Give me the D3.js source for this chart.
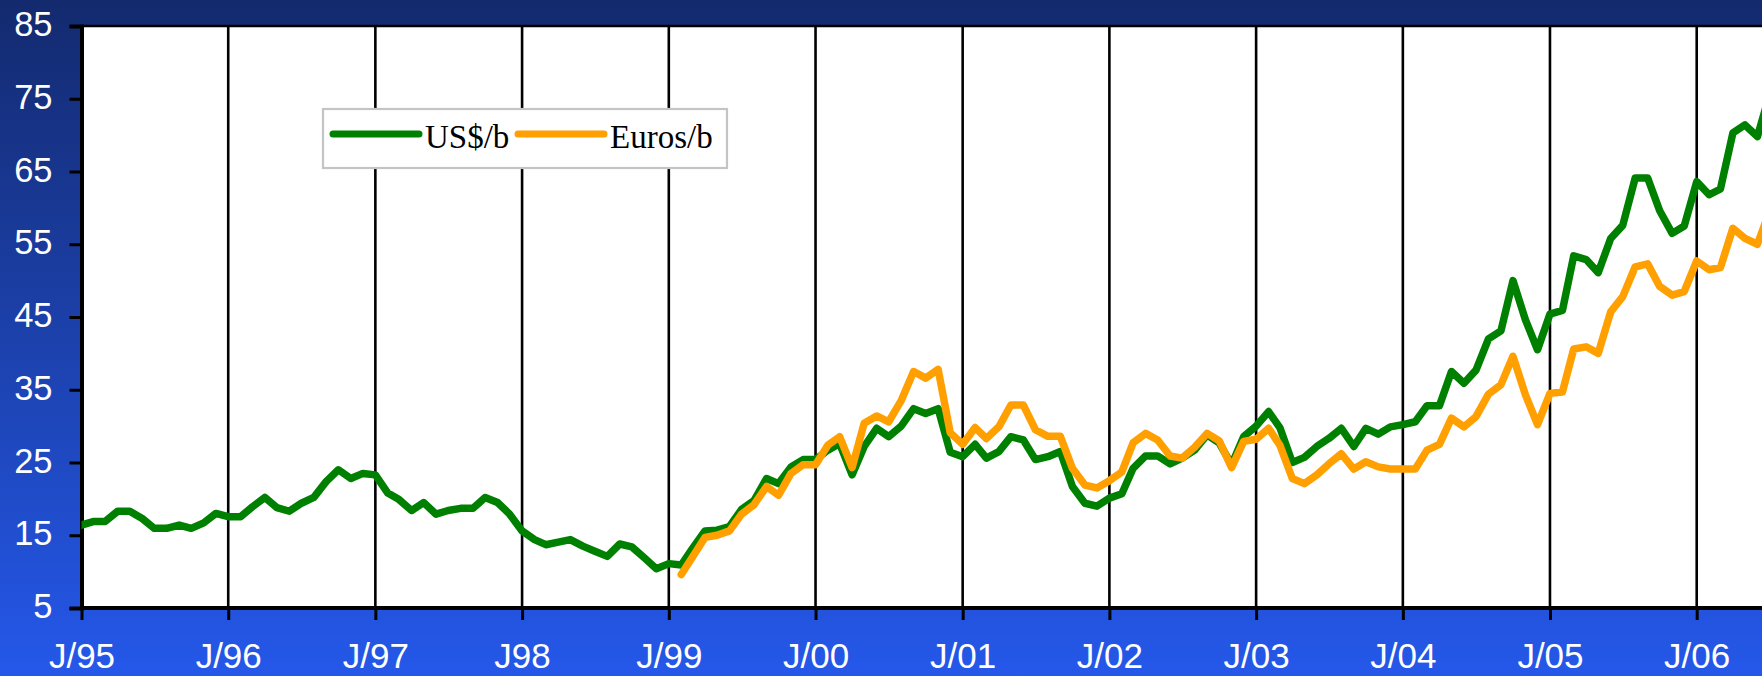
<!DOCTYPE html>
<html>
<head>
<meta charset="utf-8">
<script src="https://cdn.jsdelivr.net/npm/d3@7"></script>
<style>
  html, body { margin: 0; padding: 0; background: #fff; }
  svg { display: block; }
</style>
</head>
<body>
<div id="chart"></div>
<script>
// ---------------- DATA ----------------
const usdStart = "1995-01";
const usdValues = [
  // 1995
  16.4, 16.9, 16.9, 18.3, 18.3, 17.3, 15.95, 15.95, 16.4, 15.95, 16.7, 18.0,
  // 1996
  17.55, 17.55, 18.9, 20.2, 18.8, 18.3, 19.4, 20.2, 22.4, 24.0, 22.8, 23.5,
  // 1997
  23.3, 20.8, 19.9, 18.4, 19.5, 17.9, 18.4, 18.7, 18.7, 20.2, 19.5, 17.9,
  // 1998
  15.6, 14.4, 13.7, 14.05, 14.4, 13.5, 12.8, 12.1, 13.8, 13.4, 11.9, 10.4,
  // 1999
  11.1, 10.9, 13.2, 15.6, 15.7, 16.2, 18.55, 19.75, 22.8, 22.1, 24.4, 25.4,
  // 2000
  25.4, 26.7, 27.6, 23.3, 27.2, 29.7, 28.55, 30.0, 32.4, 31.75, 32.4, 26.4,
  // 2001
  25.8, 27.5, 25.6, 26.5, 28.55, 28.1, 25.4, 25.8, 26.5, 21.7, 19.4, 19.0,
  // 2002
  20.1, 20.7, 24.2, 25.9, 25.9, 24.8, 25.6, 26.7, 28.8, 27.7, 24.7, 28.55,
  // 2003
  30.0, 32.0, 29.8, 25.0, 25.7, 27.2, 28.3, 29.7, 27.2, 29.7, 28.9, 29.9,
  // 2004
  30.2, 30.6, 32.8, 32.8, 37.5, 35.9, 37.7, 42.0, 43.1, 50.0, 44.6, 40.5,
  // 2005
  45.4, 45.9, 53.4, 52.9, 51.1, 55.8, 57.6, 64.1, 64.1, 59.6, 56.5, 57.5,
  // 2006
  63.6, 61.8, 62.6, 70.3, 71.4, 69.8, 75.5
];
const eurStart = "1999-02";
const eurValues = [
  // 1999 (from Feb)
  9.6, 12.0, 14.7, 15.0, 15.6, 17.9, 19.2, 21.7, 20.5, 23.5, 24.7,
  // 2000
  24.7, 27.4, 28.55, 24.3, 30.4, 31.4, 30.6, 33.5, 37.5, 36.6, 37.8, 29.1,
  // 2001
  27.5, 29.8, 28.3, 29.9, 32.9, 32.9, 29.5, 28.6, 28.6, 24.2, 21.9, 21.5,
  // 2002
  22.5, 23.7, 27.7, 29.0, 28.1, 25.9, 25.6, 27.1, 29.0, 28.0, 24.3, 27.9,
  // 2003
  28.2, 29.7, 27.4, 22.8, 22.1, 23.3, 24.8, 26.2, 24.1, 25.1, 24.4, 24.1,
  // 2004
  24.1, 24.1, 26.7, 27.5, 31.1, 29.9, 31.3, 34.4, 35.7, 39.6, 34.3, 30.2,
  // 2005
  34.5, 34.7, 40.6, 40.9, 40.0, 45.7, 47.8, 51.9, 52.3, 49.2, 48.0, 48.5,
  // 2006
  52.7, 51.5, 51.8, 57.2, 55.8, 55.0, 59.5
];
const seriesNames = ["US$/b", "Euros/b"];
const xTickYears = [1995, 1996, 1997, 1998, 1999, 2000, 2001, 2002, 2003, 2004, 2005, 2006];
const xTickLabels = ["J/95", "J/96", "J/97", "J98", "J/99", "J/00", "J/01", "J/02", "J/03", "J/04", "J/05", "J/06"];
const yTicks = [5, 15, 25, 35, 45, 55, 65, 75, 85];

// ---------------- LAYOUT ----------------
const W = 1762, H = 676;
const plotL = 81.5, plotR = 1762, plotT = 26, plotB = 608;
const GREEN = "#008000", ORANGE = "#ff9f00";

const parseMonth = d3.timeParse("%Y-%m");
function monthSeries(start, values) {
  const s = parseMonth(start);
  return values.map((v, i) => ({ date: d3.timeMonth.offset(s, i), value: v }));
}
const usd = monthSeries(usdStart, usdValues);
const eur = monthSeries(eurStart, eurValues);

const x = d3.scaleTime()
  .domain([new Date(1995, 0, 1), new Date(2006, 0, 1)])
  .range([plotL, 1696.7]);
const y = d3.scaleLinear().domain([5, 85]).range([plotB, plotT]);

const svg = d3.select("#chart").append("svg")
  .attr("width", W).attr("height", H);

const defs = svg.append("defs");
const grad = defs.append("linearGradient").attr("id", "bg")
  .attr("x1", 0).attr("y1", 0).attr("x2", 0).attr("y2", 1);
grad.append("stop").attr("offset", "0%").attr("stop-color", "#132a6e");
grad.append("stop").attr("offset", "100%").attr("stop-color", "#2558ea");
defs.append("clipPath").attr("id", "plotclip")
  .append("rect").attr("x", plotL).attr("y", plotT - 5)
  .attr("width", plotR - plotL).attr("height", plotB - plotT + 5);

svg.append("rect").attr("width", W).attr("height", H).attr("fill", "url(#bg)");
svg.append("rect").attr("x", plotL).attr("y", plotT)
  .attr("width", plotR - plotL).attr("height", plotB - plotT).attr("fill", "#fff");

// vertical gridlines (year boundaries)
const yearDates = xTickYears.map(yr => new Date(yr, 0, 1));
svg.append("g").selectAll("line").data(yearDates.slice(1)).join("line")
  .attr("x1", d => x(d)).attr("x2", d => x(d))
  .attr("y1", plotT).attr("y2", plotB)
  .attr("stroke", "#000").attr("stroke-width", 2.6);

// top border
svg.append("line").attr("x1", plotL).attr("x2", plotR)
  .attr("y1", plotT).attr("y2", plotT)
  .attr("stroke", "#000").attr("stroke-width", 2.6);

// y axis
const yAxis = d3.axisLeft(y).tickValues(yTicks).tickSize(12).tickPadding(17).tickFormat(d3.format("d"));
const gy = svg.append("g").attr("transform", `translate(${plotL},0)`).call(yAxis);
gy.select(".domain").attr("stroke", "#000").attr("stroke-width", 4);
gy.selectAll(".tick line").attr("stroke", "#000").attr("stroke-width", 3);
gy.selectAll(".tick text")
  .attr("fill", "#fff")
  .attr("font-family", "'Liberation Sans', Arial, sans-serif")
  .attr("font-size", 34.5)
  .attr("dy", "0.28em");

// x axis
const xAxis = d3.axisBottom(x).tickValues(yearDates).tickSize(12).tickPadding(0)
  .tickFormat((d, i) => xTickLabels[i]);
const gx = svg.append("g").attr("transform", `translate(0,${plotB})`).call(xAxis);
gx.select(".domain").attr("d", `M${plotL},0H${plotR}`).attr("stroke", "#000").attr("stroke-width", 4);
gx.selectAll(".tick line").attr("stroke", "#000").attr("stroke-width", 3);
gx.selectAll(".tick text")
  .attr("fill", "#fff")
  .attr("font-family", "'Liberation Sans', Arial, sans-serif")
  .attr("font-size", 35)
  .attr("y", 60).attr("dy", 0);

// lines
const line = d3.line().x(d => x(d.date)).y(d => y(d.value));
const lines = svg.append("g").attr("clip-path", "url(#plotclip)");
lines.append("path").datum(usd).attr("d", line)
  .attr("fill", "none").attr("stroke", GREEN).attr("stroke-width", 7.5)
  .attr("stroke-linejoin", "round").attr("stroke-linecap", "round");
lines.append("path").datum(eur).attr("d", line)
  .attr("fill", "none").attr("stroke", ORANGE).attr("stroke-width", 7.5)
  .attr("stroke-linejoin", "round").attr("stroke-linecap", "round");

// legend
const lg = svg.append("g");
lg.append("rect").attr("x", 323).attr("y", 109).attr("width", 404).attr("height", 59)
  .attr("fill", "#fff").attr("stroke", "#c4c4c4").attr("stroke-width", 2.2);
const legendItems = [
  { name: seriesNames[0], color: GREEN, x1: 333, x2: 419, tx: 425 },
  { name: seriesNames[1], color: ORANGE, x1: 518, x2: 604, tx: 610 }
];
legendItems.forEach(it => {
  lg.append("line").attr("x1", it.x1).attr("x2", it.x2).attr("y1", 134).attr("y2", 134)
    .attr("stroke", it.color).attr("stroke-width", 7).attr("stroke-linecap", "round");
  lg.append("text").attr("x", it.tx).attr("y", 148)
    .attr("font-family", "'Liberation Serif', 'Times New Roman', serif")
    .attr("font-size", 33).attr("fill", "#000").text(it.name);
});
</script>
</body>
</html>
